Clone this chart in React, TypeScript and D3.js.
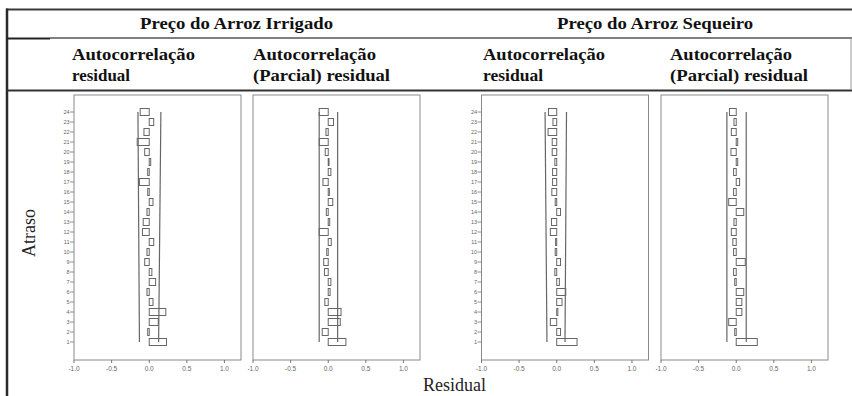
import React from "react";
import * as d3 from "d3";

const lags = [1, 2, 3, 4, 5, 6, 7, 8, 9, 10, 11, 12, 13, 14, 15, 16, 17, 18, 19, 20, 21, 22, 23, 24];
const xTicks = [-1.0, -0.5, 0.0, 0.5, 1.0];

const acfIrrigado = [0.23, -0.02, 0.12, 0.22, 0.05, -0.03, 0.085, 0.035, -0.06, -0.03, 0.06, -0.09, -0.08, -0.03, 0.05, -0.02, -0.13, -0.02, 0.02, -0.06, -0.16, -0.07, 0.06, -0.12];
const pacfIrrigado = [0.235, -0.08, 0.16, 0.17, -0.045, 0.025, 0.035, -0.05, -0.06, -0.02, 0.04, -0.12, 0.02, -0.025, 0.06, 0.015, -0.07, 0.035, 0.01, -0.04, -0.12, -0.03, 0.07, -0.12];
const acfSequeiro = [0.27, 0.05, -0.085, 0.015, 0.07, 0.12, 0.035, -0.025, 0.05, -0.02, -0.015, -0.085, -0.07, 0.05, -0.02, -0.065, -0.055, -0.055, -0.025, -0.06, -0.06, -0.115, -0.05, -0.11];
const pacfSequeiro = [0.28, -0.02, -0.1, 0.075, 0.075, 0.1, -0.02, -0.035, 0.12, -0.035, -0.045, -0.065, -0.03, 0.1, -0.1, -0.035, 0.045, -0.035, 0.02, -0.07, 0.02, -0.065, -0.03, -0.09];

// confidence limits [at lag 1, at lag 24]
const acfIrrigadoLower = [-0.13, -0.15];
const acfIrrigadoUpper = [0.125, 0.155];
const pacfIrrigadoLower = [-0.12, -0.12];
const pacfIrrigadoUpper = [0.125, 0.125];
const acfSequeiroLower = [-0.13, -0.155];
const acfSequeiroUpper = [0.11, 0.13];
const pacfSequeiroLower = [-0.124, -0.124];
const pacfSequeiroUpper = [0.133, 0.133];

const groupTitles = ["Preço do Arroz Irrigado", "Preço do Arroz Sequeiro"];
const colTitles = [
  ["Autocorrelação", "residual"],
  ["Autocorrelação", "(Parcial) residual"],
  ["Autocorrelação", "residual"],
  ["Autocorrelação", "(Parcial) residual"],
];
const yAxisTitle = "Atraso";
const xAxisTitle = "Residual";

const SERIF = "'Liberation Serif', 'Times New Roman', serif";
const SANS = "'Liberation Sans', Arial, sans-serif";

const panels = [
  { left: 74, values: acfIrrigado, lower: acfIrrigadoLower, upper: acfIrrigadoUpper, showY: true },
  { left: 253, values: pacfIrrigado, lower: pacfIrrigadoLower, upper: pacfIrrigadoUpper, showY: false },
  { left: 481.5, values: acfSequeiro, lower: acfSequeiroLower, upper: acfSequeiroUpper, showY: true },
  { left: 661, values: pacfSequeiro, lower: pacfSequeiroLower, upper: pacfSequeiroUpper, showY: false },
];

const PANEL_W = 167;
const PANEL_TOP = 95;
const PANEL_BOTTOM = 360;

function Panel({ p }: { p: any }) {
  const x = d3.scaleLinear().domain([-1, 1.22]).range([p.left, p.left + PANEL_W]);
  const y = d3.scaleLinear().domain([1, 24]).range([342, 112]);
  const boxH = 7;
  const lowerLine = d3.line<number>().x((d, i) => x(d)).y((d, i) => y(i === 0 ? 1 : 24));
  return (
    <g>
      <rect x={p.left} y={PANEL_TOP} width={PANEL_W} height={PANEL_BOTTOM - PANEL_TOP} fill="#fff" stroke="#8a8a8a" strokeWidth={1} />
      {xTicks.map((t) => (
        <g key={t}>
          <line x1={x(t)} x2={x(t)} y1={PANEL_BOTTOM} y2={PANEL_BOTTOM + 3} stroke="#777" strokeWidth={1} />
          <text x={x(t)} y={371} fontSize={6.5} fontFamily={SANS} fill="#666" textAnchor="middle">
            {t.toFixed(1)}
          </text>
        </g>
      ))}
      {p.showY &&
        lags.map((l) => (
          <g key={l}>
            <line x1={p.left - 4} x2={p.left} y1={y(l)} y2={y(l)} stroke="#777" strokeWidth={0.8} />
            <text x={p.left - 4.5} y={y(l) + 2} fontSize={5.5} fontFamily={SANS} fill="#666" textAnchor="end">
              {l}
            </text>
          </g>
        ))}
      <path d={lowerLine(p.lower) || ""} stroke="#666" strokeWidth={1.2} fill="none" />
      <path d={lowerLine(p.upper) || ""} stroke="#666" strokeWidth={1.2} fill="none" />
      {p.values.map((v: number, i: number) => {
        const x0 = Math.min(x(0), x(v));
        const w = Math.abs(x(v) - x(0));
        return (
          <rect key={i} x={x0} y={y(lags[i]) - boxH / 2} width={Math.max(w, 0.8)} height={boxH} fill="#fff" fillOpacity={0} stroke="#666" strokeWidth={1} />
        );
      })}
    </g>
  );
}

export default function App() {
  return (
    <svg width={852} height={396} style={{ position: "fixed", left: 0, top: 0, background: "#fff" }}>
      <rect x={0} y={0} width={852} height={396} fill="#fff" />
      {/* table lines */}
      <line x1={6} x2={852} y1={9.5} y2={9.5} stroke="#3a3a3a" strokeWidth={2} />
      <line x1={7} x2={7} y1={8.5} y2={396} stroke="#2a2a2a" strokeWidth={2.5} />
      <line x1={7} x2={50} y1={38.5} y2={38.5} stroke="#222" strokeWidth={2} />
      <line x1={50} x2={852} y1={38} y2={38} stroke="#555" strokeWidth={1.5} />
      <line x1={7} x2={852} y1={90.5} y2={90.5} stroke="#333" strokeWidth={2} />
      <line x1={851} x2={851} y1={38} y2={90} stroke="#999" strokeWidth={1} />

      {/* headers */}
      <text x={140} y={29} fontSize={16} fontWeight="bold" fontFamily={SERIF} fill="#111" textLength={193} lengthAdjust="spacingAndGlyphs">
        {groupTitles[0]}
      </text>
      <text x={557} y={29} fontSize={16} fontWeight="bold" fontFamily={SERIF} fill="#111" textLength={196} lengthAdjust="spacingAndGlyphs">
        {groupTitles[1]}
      </text>
      {[
        { x: 72, w1: 123, w2: 58 },
        { x: 253, w1: 123, w2: 137 },
        { x: 483, w1: 122, w2: 60 },
        { x: 670, w1: 122, w2: 138 },
      ].map((c, i) => (
        <g key={i}>
          <text x={c.x} y={60} fontSize={16} fontWeight="bold" fontFamily={SERIF} fill="#111" textLength={c.w1} lengthAdjust="spacingAndGlyphs">
            {colTitles[i][0]}
          </text>
          <text x={c.x} y={81} fontSize={16} fontWeight="bold" fontFamily={SERIF} fill="#111" textLength={c.w2} lengthAdjust="spacingAndGlyphs">
            {colTitles[i][1]}
          </text>
        </g>
      ))}

      {panels.map((p, i) => (
        <Panel key={i} p={p} />
      ))}

      <text transform="translate(35,233) rotate(-90)" fontSize={18} fontFamily={SERIF} fill="#222" textAnchor="middle">
        {yAxisTitle}
      </text>
      <text x={423} y={391} fontSize={18} fontFamily={SERIF} fill="#222">
        {xAxisTitle}
      </text>
    </svg>
  );
}
